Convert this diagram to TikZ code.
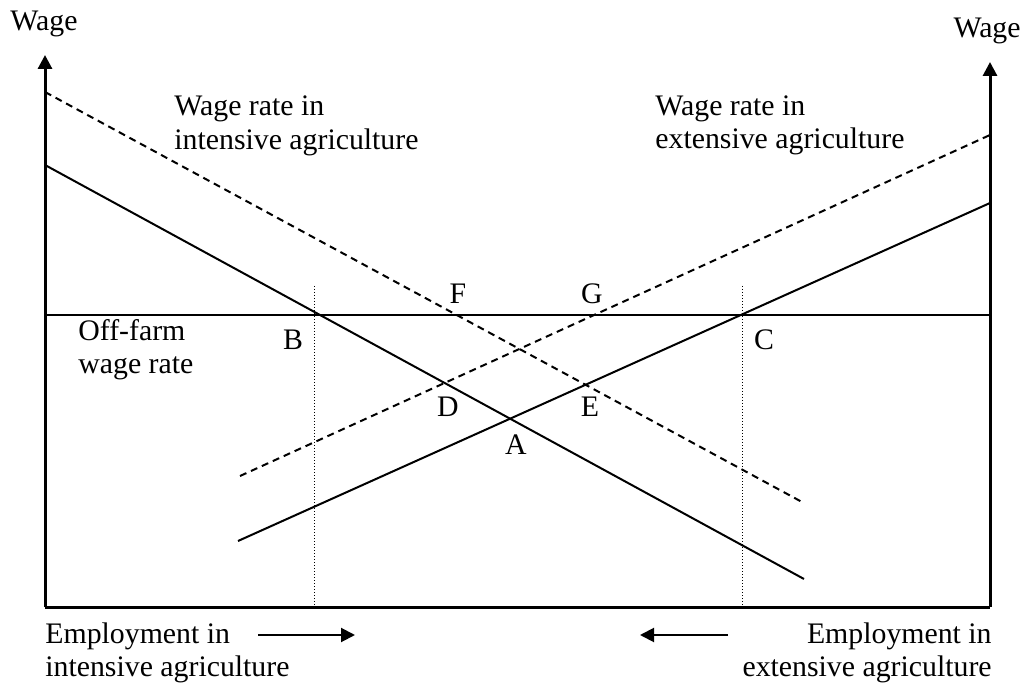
\documentclass[tikz,border=0pt]{standalone}
\usepackage{fontspec}
\setmainfont{Liberation Serif}
\usetikzlibrary{arrows.meta}
\begin{document}
\begin{tikzpicture}[x=0.5pt,y=-0.5pt,
  lbl/.style={inner sep=0pt,font=\fontsize{14.9pt}{17pt}\selectfont},
  axis/.style={line width=1.5pt},
  curve/.style={line width=1pt},
  dcurve/.style={line width=1pt,dash pattern=on 3.5pt off 2.5pt},
  guide/.style={line width=0.5pt,dash pattern=on 0.5pt off 1pt},
  tip/.style={-{Triangle[length=7pt,width=7pt]}}]
\useasboundingbox (0,0) rectangle (1027,683);
% axes
\coordinate (O) at (45,607);
\coordinate (LT) at (45,55);
\coordinate (R0) at (990,607);
\coordinate (RT) at (990,62);
\draw[axis,tip] (O) -- (LT);
\draw[axis] (O) -- (R0);
\draw[axis,tip] (R0) -- (RT);
% off-farm wage
\coordinate (OF1) at (45,315);
\coordinate (OF2) at (990,315);
\draw[curve] (OF1) -- (OF2);
% intensive agriculture curves
\coordinate (I1) at (45,165);
\coordinate (I2) at (804,579);
\draw[curve] (I1) -- (I2);
\coordinate (ID1) at (45,92);
\coordinate (ID2) at (802,502);
\draw[dcurve] (ID1) -- (ID2);
% extensive agriculture curves
\coordinate (E1) at (238,541);
\coordinate (E2) at (990,203);
\draw[curve] (E1) -- (E2);
\coordinate (ED1) at (240,476);
\coordinate (ED2) at (990,135);
\draw[dcurve] (ED1) -- (ED2);
% guides
\coordinate (GB1) at (314,286);
\coordinate (GB2) at (314,607);
\draw[guide] (GB1) -- (GB2);
\coordinate (GC1) at (742,286);
\coordinate (GC2) at (742,607);
\draw[guide] (GC1) -- (GC2);
% labels
\node[lbl,anchor=base west] (wl) at (10,31) {Wage};
\node[lbl,anchor=base east] (wr) at (1021,38) {Wage};
\node[lbl,anchor=base west] (il1) at (174,116) {Wage rate in};
\node[lbl,anchor=base west] (il2) at (174,150) {intensive agriculture};
\node[lbl,anchor=base west] (el1) at (655,116) {Wage rate in};
\node[lbl,anchor=base west] (el2) at (655,149) {extensive agriculture};
\node[lbl,anchor=base west] (of1) at (78,341) {Off-farm};
\node[lbl,anchor=base west] (of2) at (78,374) {wage rate};
\node[lbl,anchor=base] (F) at (458,304) {F};
\node[lbl,anchor=base] (G) at (592,304) {G};
\node[lbl,anchor=base] (B) at (293,350) {B};
\node[lbl,anchor=base] (C) at (764,350) {C};
\node[lbl,anchor=base] (D) at (448,417) {D};
\node[lbl,anchor=base] (E) at (590,417) {E};
\node[lbl,anchor=base] (A) at (516,455) {A};
\node[lbl,anchor=base west] (bl1) at (45,643) {Employment in};
\node[lbl,anchor=base west] (bl2) at (45,676) {intensive agriculture};
\node[lbl,anchor=base east] (br1) at (992,643) {Employment in};
\node[lbl,anchor=base east] (br2) at (992,676) {extensive agriculture};
% employment arrows
\coordinate (AR1) at (258,635);
\coordinate (AR2) at (355,635);
\draw[curve,tip] (AR1) -- (AR2);
\coordinate (AL1) at (728,635);
\coordinate (AL2) at (640,635);
\draw[curve,tip] (AL1) -- (AL2);
\end{tikzpicture}
\end{document}
